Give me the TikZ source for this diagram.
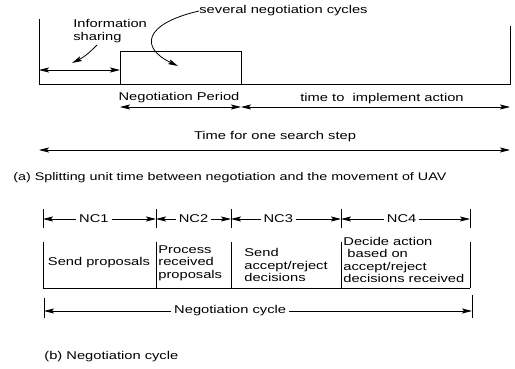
\documentclass[tikz,border=0pt]{standalone}
\usepackage{fontspec}
\setmainfont{Liberation Sans}[FakeStretch=1.3]
\usetikzlibrary{arrows.meta}
\usetikzlibrary{positioning}

\begin{document}
\begin{tikzpicture}[x=1pt,y=-1pt,>={Stealth[length=10pt,width=5pt,inset=2pt]},line width=0.8pt,
    text node/.style={font=\fontsize{11.3}{12.6}\selectfont,inner sep=0pt},
    gap node/.style={text node,fill=white,inner xsep=3pt,inner ysep=1pt}]
  \useasboundingbox (0,0) rectangle (515,369);
  % (a) search step
  \begin{scope}
    \coordinate (tl) at (39,19);
    \coordinate (bl) at (39,84);
    \coordinate (br) at (510,84);
    \coordinate (tr) at (510,26);
    \coordinate (pa) at (120,84);
    \coordinate (pb) at (120,51);
    \coordinate (pc) at (241,51);
    \coordinate (pd) at (241,84);
    \draw (tl) -- (bl) -- (br) -- (tr);
    \draw (pa) -- (pb) -- (pc) -- (pd);
    \node[text node,align=left,anchor=west] (info) at (73,31) {Information\\sharing};
    \coordinate (infofrom) at (97,45);
    \coordinate (infotip) at (72,63);
    \coordinate (isa) at (39,70);
    \coordinate (isb) at (120,70);
    \path[<->] (isa) edge (isb);
    \path[->] (infofrom) edge[bend left=10] (infotip);
    \node[text node,anchor=west] (several) at (199,11) {several negotiation cycles};
    \coordinate (nctip) at (178,66);
    \draw[->] (several.west) .. controls (143,24) and (140,48) .. (nctip);
    \node[text node] (period) at (179,98) {Negotiation Period};
    \node[text node] (implement) at (382,99) {time to\ \ implement action};
    \coordinate (npa) at (120,107);
    \coordinate (npb) at (241,107);
    \coordinate (npc) at (510,107);
    \path[<->] (npa) edge (npb);
    \path[<->] (npb) edge (npc);
    \node[text node] (step) at (275,137) {Time for one search step};
    \coordinate (sta) at (39,150);
    \coordinate (stb) at (510,150);
    \path[<->] (sta) edge (stb);
    \node[text node,font=\fontsize{11}{12}\selectfont,anchor=west] (capa) at (13,178) {(a) Splitting unit time between negotiation and the movement of UAV};
  \end{scope}
  % (b) negotiation cycle
  \begin{scope}
    \foreach \n/\x in {1/43,2/156,3/231,4/341,5/470}{
      \coordinate (t\n a) at (\x,209);
      \coordinate (t\n b) at (\x,228);
      \coordinate (t\n) at (\x,219);
      \coordinate (b\n a) at (\x,242);
      \coordinate (b\n b) at (\x,288);
      \draw (t\n a) -- (t\n b);
      \draw (b\n a) -- (b\n b);
    }
    \draw (b1b) -- (b5b);
    \path[<->] (t1) edge node[gap node,pos=0.45] {NC1} (t2);
    \path[<->] (t2) edge node[gap node] {NC2} (t3);
    \path[<->] (t3) edge node[gap node,pos=0.43] {NC3} (t4);
    \path[<->] (t4) edge node[gap node,pos=0.47] {NC4} (t5);
    \node[text node] (send) at (99,263) {Send proposals};
    \node[text node,align=left,anchor=west] (process) at (158,263) {Process\\received\\proposals};
    \node[text node,align=left,anchor=west] (accept) at (244,265) {Send\\accept/reject\\decisions};
    \node[text node,align=left,anchor=west] (decide) at (343,260) {Decide action\\\ based on\\accept/reject\\decisions received};
    \coordinate (cya) at (44,298);
    \coordinate (cyb) at (44,318);
    \coordinate (cyc) at (472,295);
    \coordinate (cyd) at (472,318);
    \coordinate (cyl) at (44,311);
    \coordinate (cyr) at (472,311);
    \draw (cya) -- (cyb);
    \draw (cyc) -- (cyd);
    \path[<->] (cyl) edge node[gap node,pos=0.435] {Negotiation cycle} (cyr);
    \node[text node,anchor=west] (capb) at (44,357) {(b) Negotiation cycle};
  \end{scope}
\end{tikzpicture}
\end{document}
